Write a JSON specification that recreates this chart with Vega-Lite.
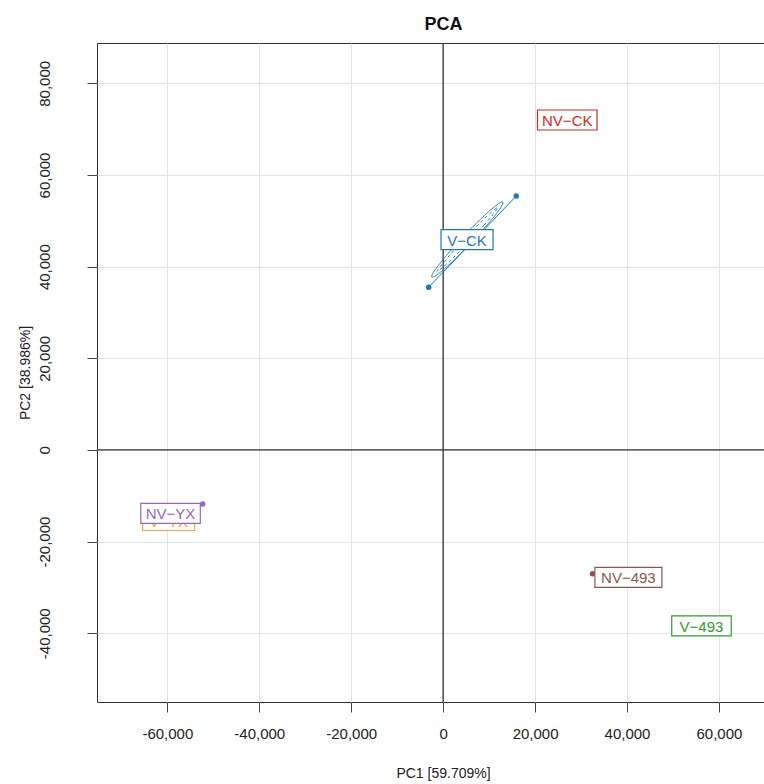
{
  "$schema": "https://vega.github.io/schema/vega-lite/v6.json",
  "width": 667,
  "height": 659,
  "autosize": {"type": "none"},
  "padding": {"left": 97, "top": 43, "right": 0, "bottom": 82},
  "background": "white",
  "title": {"text": "PCA", "fontSize": 18, "fontWeight": "bold", "font": "Liberation Sans", "color": "#111", "anchor": "middle", "dx": 13, "offset": 8},
  "config": {
    "view": {"stroke": "#333", "strokeWidth": 1},
    "axis": {"labelFont": "Liberation Sans", "titleFont": "Liberation Sans"}
  },
  "datasets": {
    "samples": [
      {"group": "V−CK", "x": -3150, "y": 35500},
      {"group": "V−CK", "x": 15900, "y": 55400},
      {"group": "NV−CK", "x": 27000, "y": 72000},
      {"group": "NV−YX", "x": -52300, "y": -11800},
      {"group": "V−YX", "x": -59700, "y": -15400},
      {"group": "NV−493", "x": 32500, "y": -27000},
      {"group": "V−493", "x": 56200, "y": -38400}
    ],
    "labels": [
      {"group": "V−YX", "x": -59700, "y": -15400},
      {"group": "NV−CK", "x": 27000, "y": 72000},
      {"group": "V−CK", "x": 5200, "y": 45900},
      {"group": "NV−YX", "x": -59300, "y": -13850},
      {"group": "NV−493", "x": 40300, "y": -27800},
      {"group": "V−493", "x": 56200, "y": -38400}
    ],
    "ellipse": [
      {"ring": "outer", "i": 0, "x": 12980, "y": 54090},
      {"ring": "outer", "i": 1, "x": 12350, "y": 52630},
      {"ring": "outer", "i": 2, "x": 9800, "y": 49360},
      {"ring": "outer", "i": 3, "x": 6040, "y": 45170},
      {"ring": "outer", "i": 4, "x": 2090, "y": 41180},
      {"ring": "outer", "i": 5, "x": -1020, "y": 38450},
      {"ring": "outer", "i": 6, "x": -2460, "y": 37730},
      {"ring": "outer", "i": 7, "x": -1830, "y": 39190},
      {"ring": "outer", "i": 8, "x": 720, "y": 42460},
      {"ring": "outer", "i": 9, "x": 4480, "y": 46650},
      {"ring": "outer", "i": 10, "x": 8430, "y": 50640},
      {"ring": "outer", "i": 11, "x": 11540, "y": 53370},
      {"ring": "inner", "i": 0, "x": 11850, "y": 52890},
      {"ring": "inner", "i": 1, "x": 8890, "y": 49070},
      {"ring": "inner", "i": 2, "x": 2330, "y": 42080},
      {"ring": "inner", "i": 3, "x": -1330, "y": 38930},
      {"ring": "inner", "i": 4, "x": 1630, "y": 42730},
      {"ring": "inner", "i": 5, "x": 8200, "y": 49720}
    ]
  },
  "layer": [
    {
      "data": {"values": [{}]},
      "mark": {"type": "rule", "color": "#333", "strokeWidth": 1.3},
      "encoding": {"x": {"datum": 0, "type": "quantitative", "scale": {"domain": [-75300, 69800], "nice": false, "zero": false},
        "axis": {
          "title": "PC1 [59.709%]",
          "values": [-60000, -40000, -20000, 0, 20000, 40000, 60000],
          "grid": true, "gridColor": "#e2e2e2", "domain": false,
          "tickSize": 10, "tickColor": "#444",
          "labelFontSize": 15, "labelColor": "#222", "labelPadding": 14,
          "labelExpr": "(datum.value < 0 ? '-' : '') + format(abs(datum.value), ',')",
          "titleFontSize": 14, "titleFontWeight": "normal", "titleColor": "#222", "titlePadding": 25, "titleX": 346
        }}}
    },
    {
      "data": {"values": [{}]},
      "mark": {"type": "rule", "color": "#333", "strokeWidth": 1.3},
      "encoding": {"y": {"datum": 0, "type": "quantitative", "scale": {"domain": [-55000, 88800], "nice": false, "zero": false},
        "axis": {
          "title": "PC2 [38.986%]",
          "values": [-40000, -20000, 0, 20000, 40000, 60000, 80000],
          "grid": true, "gridColor": "#e2e2e2", "domain": false,
          "tickSize": 10, "tickColor": "#444",
          "labelFontSize": 15, "labelColor": "#222", "labelPadding": 35,
          "labelAngle": -90, "labelAlign": "center", "labelBaseline": "bottom",
          "labelExpr": "(datum.value < 0 ? '-' : '') + format(abs(datum.value), ',')",
          "titleFontSize": 14, "titleFontWeight": "normal", "titleColor": "#222", "titlePadding": 5
        }}}
    },
    {
      "data": {"name": "ellipse"},
      "mark": {"type": "line", "interpolate": "cardinal-closed", "strokeWidth": 1, "color": "#1f77b4"},
      "encoding": {
        "x": {"field": "x", "type": "quantitative"},
        "y": {"field": "y", "type": "quantitative"},
        "order": {"field": "i", "type": "quantitative"},
        "detail": {"field": "ring"},
        "strokeDash": {"field": "ring", "type": "nominal", "scale": {"domain": ["outer", "inner"], "range": [[1, 0], [3, 3]]}, "legend": null}
      }
    },
    {
      "data": {"name": "samples"},
      "mark": {"type": "line", "strokeWidth": 1},
      "encoding": {
        "x": {"field": "x", "type": "quantitative"},
        "y": {"field": "y", "type": "quantitative"},
        "detail": {"field": "group"},
        "color": {"field": "group", "type": "nominal", "legend": null,
          "scale": {"domain": ["NV−CK", "V−CK", "NV−YX", "V−YX", "NV−493", "V−493"], "range": ["#d62728", "#1f77b4", "#9467bd", "#f0a43a", "#8c564b", "#2ca02c"]}}
      }
    },
    {
      "data": {"name": "samples"},
      "mark": {"type": "point", "filled": true, "size": 30, "opacity": 1},
      "encoding": {
        "x": {"field": "x", "type": "quantitative"},
        "y": {"field": "y", "type": "quantitative"},
        "color": {"field": "group", "type": "nominal", "legend": null}
      }
    },
    {
      "data": {"name": "labels"},
      "transform": [{"filter": "datum.group == 'V−YX'"}],
      "mark": {"type": "rect", "fill": "white", "fillOpacity": 1, "strokeWidth": 1.2, "height": 20, "width": {"expr": "7.5*length(datum.group)+22"}},
      "encoding": {
        "x": {"field": "x", "type": "quantitative"},
        "y": {"field": "y", "type": "quantitative"},
        "stroke": {"field": "group", "type": "nominal", "legend": null,
          "scale": {"domain": ["NV−CK", "V−CK", "NV−YX", "V−YX", "NV−493", "V−493"], "range": ["#d62728", "#1f77b4", "#9467bd", "#f0a43a", "#8c564b", "#2ca02c"]}}
      }
    },
    {
      "data": {"name": "labels"},
      "transform": [{"filter": "datum.group == 'V−YX'"}],
      "mark": {"type": "text", "font": "Liberation Sans", "fontSize": 15, "align": "center", "baseline": "middle", "dy": 1},
      "encoding": {
        "x": {"field": "x", "type": "quantitative"},
        "y": {"field": "y", "type": "quantitative"},
        "text": {"field": "group"},
        "color": {"field": "group", "type": "nominal", "legend": null}
      }
    },
    {
      "data": {"name": "labels"},
      "transform": [{"filter": "datum.group != 'V−YX'"}],
      "mark": {"type": "rect", "fill": "white", "fillOpacity": 1, "strokeWidth": 1.2, "height": 20, "width": {"expr": "7.5*length(datum.group)+22"}},
      "encoding": {
        "x": {"field": "x", "type": "quantitative"},
        "y": {"field": "y", "type": "quantitative"},
        "stroke": {"field": "group", "type": "nominal", "legend": null}
      }
    },
    {
      "data": {"name": "labels"},
      "transform": [{"filter": "datum.group != 'V−YX'"}],
      "mark": {"type": "text", "font": "Liberation Sans", "fontSize": 15, "align": "center", "baseline": "middle", "dy": 1},
      "encoding": {
        "x": {"field": "x", "type": "quantitative"},
        "y": {"field": "y", "type": "quantitative"},
        "text": {"field": "group"},
        "color": {"field": "group", "type": "nominal", "legend": null}
      }
    }
  ]
}
